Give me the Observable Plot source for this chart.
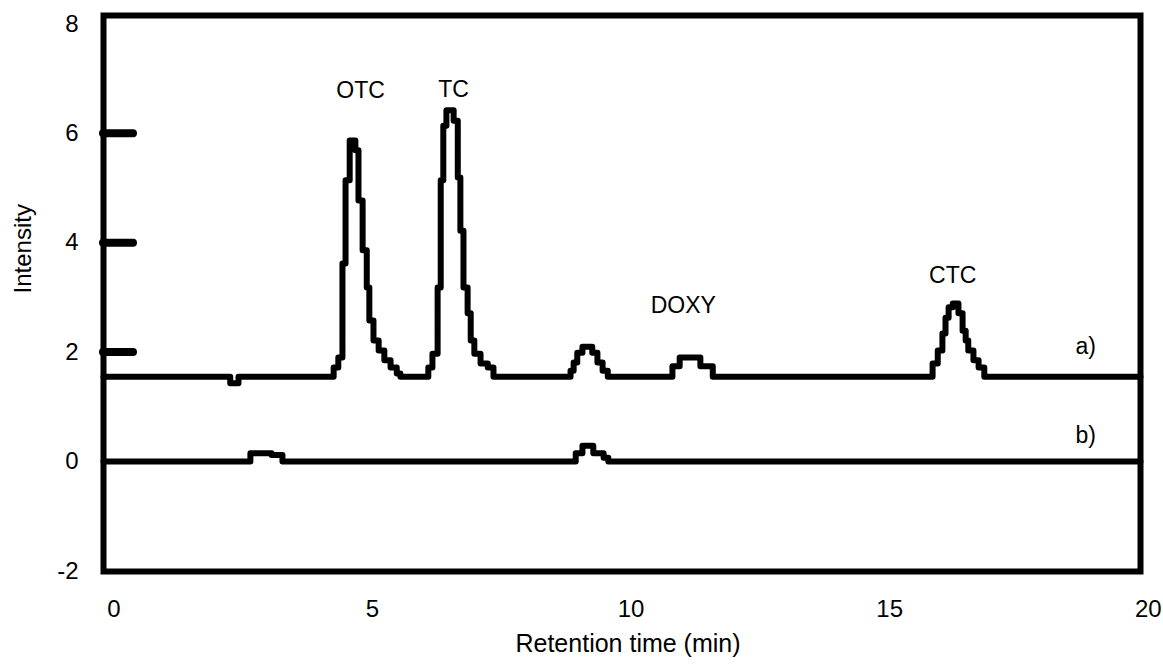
<!DOCTYPE html>
<html>
<head>
<meta charset="utf-8">
<script src="https://cdn.jsdelivr.net/npm/d3@7"></script>
<script src="https://cdn.jsdelivr.net/npm/@observablehq/plot@0.6"></script>
<style>
  html, body { margin: 0; padding: 0; background: #fff; }
  #chart { width: 1163px; height: 666px; }
</style>
</head>
<body>
<div id="chart"></div>
<script>
// Trace a) (step-after points: time in min, intensity)
const aTime = [-0.2, 2.25, 2.41,
  4.25, 4.34, 4.42, 4.48, 4.56, 4.67, 4.73, 4.81, 4.89, 4.94, 5.02, 5.12, 5.23, 5.35, 5.47, 5.54,
  6.08, 6.16, 6.26, 6.32, 6.37, 6.43, 6.57, 6.65, 6.70, 6.76, 6.84, 6.90, 6.97, 7.09, 7.23, 7.34,
  8.83, 8.89, 8.96, 9.06, 9.25, 9.35, 9.45, 9.55,
  10.80, 10.94, 11.34, 11.58,
  15.83, 15.93, 16.02, 16.08, 16.14, 16.22, 16.33, 16.41, 16.47, 16.52, 16.62, 16.72, 16.83,
  19.85];
const aIntensity = [1.55, 1.43, 1.55,
  1.72, 1.90, 3.62, 5.14, 5.87, 5.69, 4.77, 3.86, 3.18, 2.58, 2.21, 2.03, 1.85, 1.72, 1.61, 1.55,
  1.72, 1.97, 3.18, 5.14, 6.14, 6.42, 6.23, 5.19, 4.22, 3.18, 2.71, 2.21, 1.97, 1.79, 1.72, 1.55,
  1.66, 1.81, 1.99, 2.10, 1.99, 1.81, 1.66, 1.55,
  1.74, 1.90, 1.74, 1.55,
  1.79, 2.03, 2.34, 2.63, 2.82, 2.89, 2.71, 2.39, 2.21, 2.03, 1.85, 1.72, 1.55,
  1.55];

// Trace b)
const bTime = [-0.2, 2.64, 3.05, 3.26, 8.93, 9.06, 9.27, 9.47, 9.56, 19.85];
const bIntensity = [0, 0.15, 0.12, 0, 0.15, 0.29, 0.15, 0.07, 0, 0];

// Peak labels
const peakNames = ["OTC", "TC", "DOXY", "CTC"];
const peakLabelTime = [4.77, 6.57, 11.01, 16.22];
const peakLabelIntensity = [6.78, 6.80, 2.85, 3.40];

// Trace labels
const traceNames = ["a)", "b)"];
const traceLabelTime = [18.79, 18.79];
const traceLabelIntensity = [2.10, 0.475];

// Ticks
const xTicks = [0, 5, 10, 15, 20];
const yTicks = [-2, 0, 2, 4, 6, 8];
const yInnerTicks = [2, 4, 6];

const traceA = aTime.map((t, i) => ({time: t, intensity: aIntensity[i]}));
const traceB = bTime.map((t, i) => ({time: t, intensity: bIntensity[i]}));
const peaks = peakNames.map((n, i) => ({name: n, time: peakLabelTime[i], intensity: peakLabelIntensity[i]}));
const traces = traceNames.map((n, i) => ({name: n, time: traceLabelTime[i], intensity: traceLabelIntensity[i]}));

const font = "'Liberation Sans', Arial, Helvetica, sans-serif";

const chart = Plot.plot({
  width: 1163,
  height: 666,
  marginLeft: 103,
  marginRight: 23,
  marginTop: 15,
  marginBottom: 95,
  style: {fontFamily: font, background: "#fff", color: "#000"},
  x: {domain: [-0.2, 19.85]},
  y: {domain: [-2.011, 8.154]},
  marks: [
    Plot.axisX({ticks: xTicks, tickSize: 0, tickPadding: 28, fontSize: 24, label: null, tickFormat: d => String(d)}),
    Plot.axisY({ticks: yTicks, tickSize: 0, tickPadding: 25, fontSize: 24, label: null, tickFormat: d => String(d)}),
    Plot.ruleY(yInnerTicks, {x1: -0.2, x2: 0.38, stroke: "#000", strokeWidth: 8, strokeLinecap: "round"}),
    Plot.line(traceB, {x: "time", y: "intensity", curve: "step-after", stroke: "#000", strokeWidth: 6, strokeLinejoin: "round"}),
    Plot.line(traceA, {x: "time", y: "intensity", curve: "step-after", stroke: "#000", strokeWidth: 6, strokeLinejoin: "round"}),
    Plot.text(peaks, {x: "time", y: "intensity", text: "name", fontSize: 23, fill: "#000", lineAnchor: "middle"}),
    Plot.text(traces, {x: "time", y: "intensity", text: "name", fontSize: 23, fill: "#000", lineAnchor: "middle"}),
    Plot.text(["Intensity"], {frameAnchor: "left", dx: -80, rotate: -90, fontSize: 24, fill: "#000", lineAnchor: "middle"}),
    Plot.text(["Retention time (min)"], {frameAnchor: "bottom", dx: 6, dy: 72, fontSize: 25, fill: "#000", lineAnchor: "middle"}),
    Plot.frame({stroke: "#000", strokeWidth: 6})
  ]
});
document.getElementById("chart").appendChild(chart);
</script>
</body>
</html>
